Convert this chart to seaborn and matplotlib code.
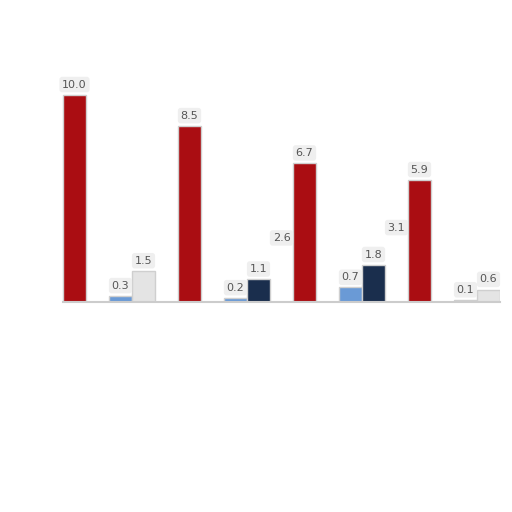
import numpy as np
import pandas as pd
import matplotlib
matplotlib.use("Agg")
import matplotlib.pyplot as plt
import seaborn as sns

categories = ["Q1", "Q2", "Q3", "Q4"]
series = ["ref", "main", "gap", "low", "high"]
ref_vals = [np.nan, np.nan, 2.6, 3.1]
main_vals = [10.0, 8.5, 6.7, 5.9]
gap_vals = [np.nan, np.nan, np.nan, np.nan]
low_vals = [0.3, 0.2, 0.7, 0.1]
high_vals = [1.5, 1.1, 1.8, 0.6]

rows = []
for name, vals in zip(series, [ref_vals, main_vals, gap_vals, low_vals, high_vals]):
    for cat, v in zip(categories, vals):
        rows.append({"category": cat, "series": name, "value": v})
df = pd.DataFrame(rows)

palette = {"ref": "#ffffff", "main": "#aa0d12", "gap": "#ffffff",
           "low": "#6a9ad6", "high": "#1a2e4d"}
high_colors = ["#e4e4e4", "#1a2e4d", "#1a2e4d", "#e4e4e4"]

sns.set_style("white")
fig = plt.figure(figsize=(5.12, 5.12), dpi=100)
ax = fig.add_axes([40 / 512, 210 / 512, 460 / 512, 228 / 512])

sns.barplot(data=df, x="category", y="value", hue="series", hue_order=series,
            order=categories, palette=palette, saturation=1, width=1.0, gap=0.0,
            edgecolor="#cfcfcf", linewidth=1.0, legend=False, ax=ax)

# per-bar colours for the last series, hide the reference series
for name, cont in zip(series, ax.containers):
    for i, bar in enumerate(cont):
        if name == "high":
            bar.set_facecolor(high_colors[i])
        if name in ("ref", "gap"):
            bar.set_facecolor("none")
            bar.set_edgecolor("none")
        h = bar.get_height()
        if not np.isfinite(h):
            continue
        ax.text(bar.get_x() + bar.get_width() / 2, h + 0.25, f"{h:.1f}",
                ha="center", va="bottom", fontsize=8, color="#555555",
                bbox=dict(boxstyle="round,pad=0.25", fc="#eeeeee", ec="none", alpha=0.9))

ax.set_xlim(-0.5, 3.5)
ax.set_ylim(0, 11)
ax.set_xticks([])
ax.set_yticks([])
ax.set_xlabel("")
ax.set_ylabel("")
for s in ["top", "right", "left"]:
    ax.spines[s].set_visible(False)
ax.spines["bottom"].set_color("#cccccc")
ax.spines["bottom"].set_linewidth(1.5)
ax.spines["bottom"].set_bounds(-0.3, 3.5)
ax.patch.set_alpha(0)

fig.savefig("out.png", dpi=100, facecolor="white")
